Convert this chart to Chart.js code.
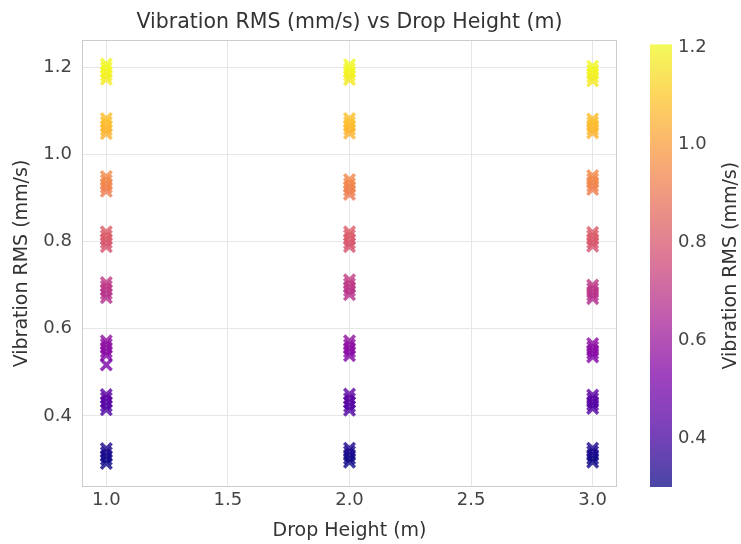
<!DOCTYPE html>
<html>
<head>
<meta charset="utf-8">
<script src="https://cdn.jsdelivr.net/npm/chart.js@4.4.0/dist/chart.umd.min.js"></script>
<style>
  html, body { margin: 0; padding: 0; background: #fff; }
</style>
</head>
<body>
<canvas id="rmsChart" width="741" height="544"></canvas>
<script>
const dropHeights = [1.0, 2.0, 3.0];
// vibration RMS readings per drop height
const rmsAt1 = [
  1.172, 1.181, 1.189, 1.198, 1.207,
  1.047, 1.056, 1.064, 1.073, 1.082,
  0.915, 0.924, 0.931, 0.94, 0.949,
  0.788, 0.797, 0.805, 0.813, 0.822,
  0.671, 0.68, 0.689, 0.697, 0.706,
  0.539, 0.547, 0.556, 0.564, 0.572, 0.517,
  0.414, 0.423, 0.432, 0.441, 0.449,
  0.291, 0.3, 0.308, 0.316, 0.325,
];
const rmsAt2 = [
  1.171, 1.18, 1.188, 1.196, 1.205,
  1.048, 1.057, 1.065, 1.073, 1.082,
  0.908, 0.917, 0.925, 0.933, 0.942,
  0.788, 0.796, 0.805, 0.814, 0.822,
  0.678, 0.687, 0.695, 0.703, 0.712,
  0.538, 0.547, 0.555, 0.563, 0.572,
  0.413, 0.422, 0.431, 0.44, 0.45,
  0.294, 0.302, 0.31, 0.318, 0.326,
];
const rmsAt3 = [
  1.168, 1.177, 1.185, 1.193, 1.202,
  1.049, 1.057, 1.065, 1.073, 1.081,
  0.919, 0.927, 0.935, 0.943, 0.951,
  0.789, 0.797, 0.805, 0.813, 0.821,
  0.669, 0.677, 0.684, 0.692, 0.7,
  0.535, 0.543, 0.55, 0.558, 0.566,
  0.417, 0.425, 0.432, 0.44, 0.448,
  0.294, 0.302, 0.31, 0.318, 0.326,
];
const rmsByHeight = [rmsAt1, rmsAt2, rmsAt3];

const xTicks = [1.0, 1.5, 2.0, 2.5, 3.0];
const yTicks = [0.4, 0.6, 0.8, 1.0, 1.2];
const cbTicks = [0.4, 0.6, 0.8, 1.0, 1.2];
const cbMin = 0.3;
const cbMax = 1.205;

const FONT = '"DejaVu Sans", sans-serif';

// plasma colormap anchors
const plasma = [
  [13, 8, 135], [76, 2, 161], [126, 3, 168], [169, 35, 149], [204, 71, 120],
  [229, 107, 93], [248, 148, 65], [253, 195, 40], [240, 249, 33],
];
function plasmaColor(t, a) {
  t = Math.max(0, Math.min(1, t));
  const p = t * (plasma.length - 1);
  const i = Math.min(plasma.length - 2, Math.floor(p));
  const f = p - i;
  const c = plasma[i].map((v, k) => Math.round(v + (plasma[i + 1][k] - v) * f));
  return `rgba(${c[0]},${c[1]},${c[2]},${a})`;
}
const norm = (v) => (v - cbMin) / (cbMax - cbMin);

const points = [];
dropHeights.forEach((h, i) => {
  rmsByHeight[i].forEach((v) => points.push({ x: h, y: v }));
});

const colorbarPlugin = {
  id: "colorbar",
  afterDraw(chart) {
    const { ctx, chartArea, scales } = chart;
    const cb = scales.cb;
    const top = cb.getPixelForValue(cbMax);
    const bottom = cb.getPixelForValue(cbMin);
    const x0 = chartArea.right + 33;
    const w = 22;

    const grad = ctx.createLinearGradient(0, bottom, 0, top);
    plasma.forEach((c, i) => {
      grad.addColorStop(i / (plasma.length - 1), plasmaColor(i / (plasma.length - 1), 0.75));
    });
    ctx.save();
    ctx.fillStyle = grad;
    ctx.fillRect(x0, top, w, bottom - top);

    // plot frame
    ctx.strokeStyle = "#cccccc";
    ctx.lineWidth = 1;
    ctx.strokeRect(chartArea.left + 0.5, chartArea.top + 0.5,
      chartArea.right - chartArea.left - 1, chartArea.bottom - chartArea.top - 1);

    // colorbar label
    ctx.fillStyle = "#333";
    ctx.font = "19px " + FONT;
    ctx.textAlign = "center";
    ctx.textBaseline = "middle";
    ctx.translate(731, (top + bottom) / 2);
    ctx.rotate(-Math.PI / 2);
    ctx.fillText("Vibration RMS (mm/s)", 0, 0);
    ctx.restore();

    // chart title centred on the plot area
    ctx.save();
    ctx.fillStyle = "#333";
    ctx.font = "20.5px " + FONT;
    ctx.textAlign = "center";
    ctx.textBaseline = "middle";
    ctx.fillText("Vibration RMS (mm/s) vs Drop Height (m)", (chartArea.left + chartArea.right) / 2, 23);
    ctx.restore();
  },
};

new Chart(document.getElementById("rmsChart"), {
  type: "scatter",
  data: {
    datasets: [
      {
        label: "Vibration RMS",
        data: points,
        pointStyle: "crossRot",
        pointRadius: 7.5,
        pointHoverRadius: 7.5,
        borderWidth: 3.5,
        borderColor: (c) => plasmaColor(norm(c.raw.y), 0.8),
        backgroundColor: (c) => plasmaColor(norm(c.raw.y), 0.8),
      },
    ],
  },
  options: {
    responsive: false,
    animation: false,
    layout: { padding: { top: 40, left: 0, right: 0, bottom: 0 } },
    plugins: {
      legend: { display: false },
      tooltip: { enabled: false },
    },
    scales: {
      x: {
        type: "linear",
        min: 0.9,
        max: 3.1,
        afterBuildTicks: (axis) => { axis.ticks = xTicks.map((v) => ({ value: v })); },
        afterFit: (axis) => { axis.height = 57; },
        ticks: {
          callback: (v) => v.toFixed(1),
          color: "#444",
          font: { family: FONT, size: 18 },
          padding: 3,
          maxRotation: 0,
        },
        grid: { color: "#e6e6e6", drawTicks: false },
        border: { display: false },
        title: {
          display: true,
          text: "Drop Height (m)",
          color: "#333",
          font: { family: FONT, size: 19 },
          padding: { top: 0, bottom: 2 },
        },
      },
      y: {
        type: "linear",
        min: 0.237,
        max: 1.262,
        afterBuildTicks: (axis) => { axis.ticks = yTicks.map((v) => ({ value: v })); },
        afterFit: (axis) => { axis.width = 82; },
        ticks: {
          callback: (v) => v.toFixed(1),
          color: "#444",
          font: { family: FONT, size: 18 },
          padding: 10,
        },
        grid: { color: "#e6e6e6", drawTicks: false },
        border: { display: false },
        title: {
          display: true,
          text: "Vibration RMS (mm/s)",
          color: "#333",
          font: { family: FONT, size: 19 },
          padding: { top: 11, bottom: 0 },
        },
      },
      cb: {
        type: "linear",
        position: "right",
        min: 0.3,
        max: 1.214,
        afterBuildTicks: (axis) => { axis.ticks = cbTicks.map((v) => ({ value: v })); },
        afterFit: (axis) => {
          axis.width = 124;
          axis.paddingTop = 0;
          axis.paddingBottom = 0;
        },
        ticks: {
          callback: (v) => v.toFixed(1),
          color: "#444",
          font: { family: FONT, size: 18 },
          padding: 61,
        },
        grid: { display: false, drawTicks: false },
        border: { display: false },
      },
    },
  },
  plugins: [colorbarPlugin],
});
</script>
</body>
</html>
